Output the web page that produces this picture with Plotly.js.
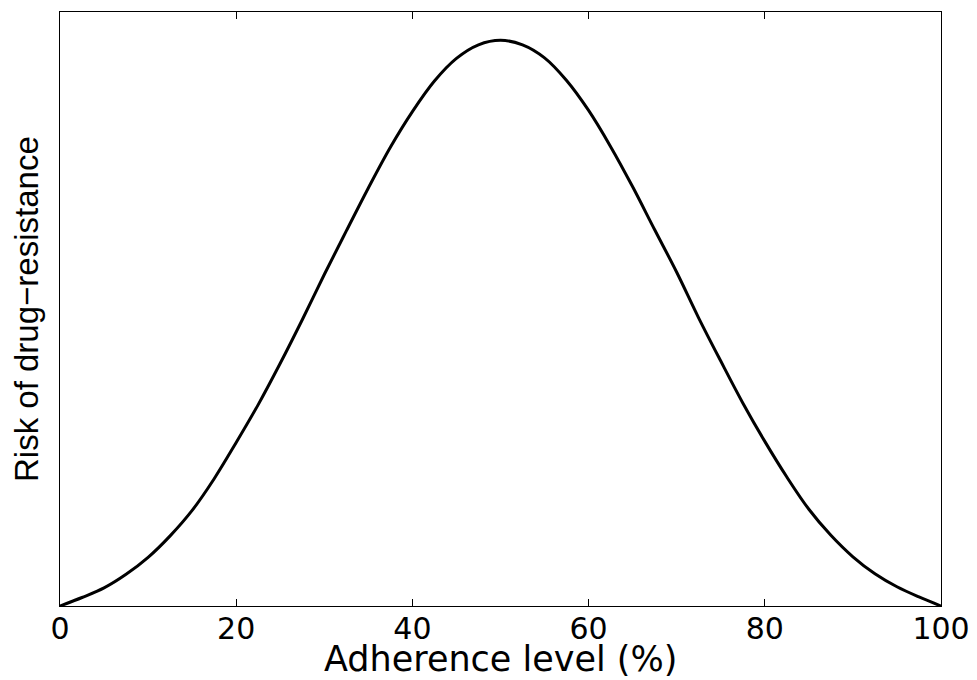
<!DOCTYPE html>
<html>
<head>
<meta charset="utf-8">
<script src="https://cdn.plot.ly/plotly-3.0.1.min.js"></script>
<style>html,body{margin:0;padding:0;background:#fff;}#chart{width:977px;height:680px;}</style>
</head>
<body>
<div id="chart"></div>
<script>
const adherence = [0, 2.5, 5, 7.5, 10, 12.5, 15, 17.5, 20, 22.5, 25, 27.5, 30, 32.5, 35, 37.5, 40, 42.5, 45, 47.5, 50,
                   52.5, 55, 57.5, 60, 62.5, 65, 67.5, 70, 72.5, 75, 77.5, 80, 82.5, 85, 87.5, 90, 92.5, 95, 97.5, 100];
const risk = [0, 0.015, 0.032, 0.056, 0.086, 0.124, 0.169, 0.225, 0.289, 0.356, 0.429, 0.506, 0.586, 0.663, 0.739, 0.811, 0.874, 0.928, 0.968, 0.992, 1.0,
              0.992, 0.969, 0.929, 0.876, 0.812, 0.741, 0.665, 0.590, 0.509, 0.433, 0.359, 0.291, 0.228, 0.171, 0.125, 0.087, 0.057, 0.034, 0.016, 0];
const xTickVals = [0, 20, 40, 60, 80, 100];
const xTickText = ['0', '20', '40', '60', '80', '100'];
const xTitle = 'Adherence level (%)';
const yTitle = 'Risk of drug\u2212resistance';

const trace = {
  x: adherence, y: risk, type: 'scatter', mode: 'lines',
  line: {color: '#000', width: 3, shape: 'spline', smoothing: 1},
  hoverinfo: 'skip'
};
const layout = {
  width: 977, height: 680,
  margin: {l: 60, r: 36, t: 12, b: 74},
  paper_bgcolor: '#fff', plot_bgcolor: '#fff',
  showlegend: false,
  xaxis: {
    range: [0, 100], tickvals: xTickVals, ticktext: xTickText,
    ticks: 'inside', ticklen: 7, tickwidth: 1, tickcolor: '#000',
    showline: true, linecolor: '#000', linewidth: 1, mirror: 'ticks',
    showgrid: false, zeroline: false,
    tickfont: {family: 'DejaVu Sans', size: 30, color: '#000'},
    ticklabelstandoff: -4
  },
  yaxis: {
    range: [0, 1.05], showticklabels: false, ticks: '',
    showline: true, linecolor: '#000', linewidth: 1, mirror: true,
    showgrid: false, zeroline: false
  },
  annotations: [{
    text: yTitle, xref: 'paper', yref: 'paper', x: 0, y: 0.5,
    xanchor: 'center', yanchor: 'middle', xshift: -34, textangle: -90,
    showarrow: false, font: {family: 'Liberation Sans', size: 33, color: '#000'}
  }, {
    text: xTitle, xref: 'paper', yref: 'paper', x: 0.5, y: 0,
    xanchor: 'center', yanchor: 'bottom', yshift: -75,
    showarrow: false, font: {family: 'DejaVu Sans', size: 35, color: '#000'}
  }]
};
Plotly.newPlot('chart', [trace], layout, {displayModeBar: false, staticPlot: true});
</script>
</body>
</html>
